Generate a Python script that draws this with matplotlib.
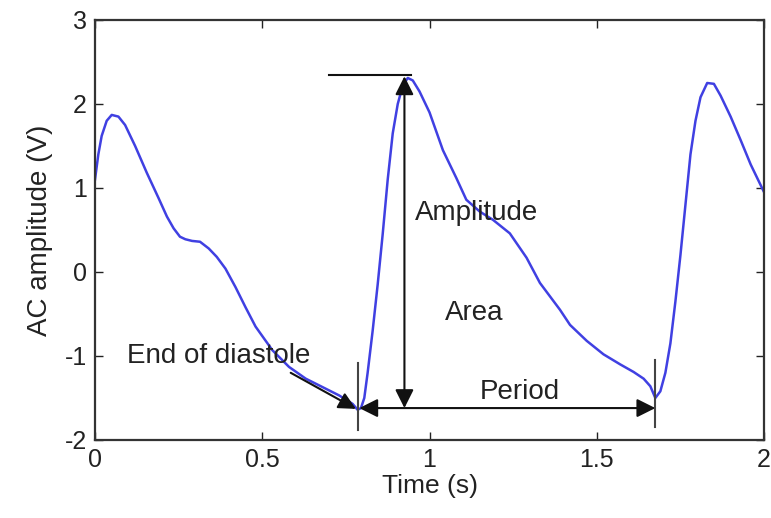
import matplotlib
matplotlib.use("Agg")
import matplotlib.pyplot as plt

# pulse waveform
t = [0.0, 0.01, 0.02, 0.035, 0.05, 0.07, 0.09, 0.12, 0.155, 0.19, 0.215,
     0.235, 0.254, 0.27, 0.29, 0.314, 0.34, 0.364, 0.39, 0.42, 0.45, 0.48,
     0.53, 0.58, 0.63, 0.68, 0.73, 0.77, 0.785, 0.795, 0.805, 0.815, 0.83,
     0.845, 0.86, 0.875, 0.89, 0.905, 0.92, 0.935, 0.95, 0.97, 1.0, 1.04,
     1.08, 1.11, 1.15, 1.19, 1.24, 1.29, 1.33, 1.39, 1.42, 1.47, 1.52, 1.57,
     1.61, 1.64, 1.66, 1.675, 1.69, 1.705, 1.72, 1.735, 1.75, 1.765, 1.78,
     1.795, 1.81, 1.83, 1.85, 1.87, 1.90, 1.93, 1.96, 2.0]
v = [1.1, 1.4, 1.62, 1.8, 1.87, 1.85, 1.75, 1.5, 1.18, 0.88, 0.66,
     0.52, 0.42, 0.39, 0.37, 0.36, 0.28, 0.18, 0.04, -0.18, -0.42, -0.65,
     -0.93, -1.13, -1.27, -1.37, -1.47, -1.57, -1.64, -1.62, -1.5, -1.2, -0.7,
     -0.15, 0.45, 1.1, 1.65, 2.0, 2.22, 2.31, 2.28, 2.15, 1.9, 1.45,
     1.12, 0.86, 0.72, 0.62, 0.46, 0.17, -0.13, -0.45, -0.63, -0.82, -0.98, -1.1,
     -1.19, -1.27, -1.36, -1.50, -1.42, -1.2, -0.85, -0.35, 0.2, 0.8, 1.4,
     1.8, 2.08, 2.25, 2.24, 2.1, 1.85, 1.57, 1.28, 0.95]

# annotation anchors (data units)
peak_t, peak_v = 0.925, 2.35
foot1_t, foot2_t, foot_v = 0.79, 1.675, -1.62

plt.rcParams["font.family"] = ["Liberation Sans", "DejaVu Sans"]
plt.rcParams["axes.unicode_minus"] = False

fig = plt.figure(figsize=(7.71, 5.18), dpi=100)
ax = fig.add_axes([0.1232, 0.1506, 0.8678, 0.8108])

ax.plot(t, v, color="#4040e2", lw=1.8)

ax.set_xlim(0, 2)
ax.set_ylim(-2, 3)
ax.set_xticks([0, 0.5, 1, 1.5, 2])
ax.set_xticklabels(["0", "0.5", "1", "1.5", "2"])
ax.set_yticks([-2, -1, 0, 1, 2, 3])
ax.tick_params(direction="in", top=True, right=True, length=6, width=1,
               labelsize=18, pad=6, colors="#222222")
for s in ax.spines.values():
    s.set_linewidth(1.6)
    s.set_color("#333333")
ax.set_xlabel("Time (s)", fontsize=19, labelpad=1, color="#222222")
ax.set_ylabel("AC amplitude (V)", fontsize=20, labelpad=8, color="#222222")

black = "#111111"
# top reference line
ax.plot([0.70, 0.945], [peak_v, peak_v], color=black, lw=1.5)
# amplitude double arrow
ax.annotate("", xy=(peak_t, peak_v - 0.02), xytext=(peak_t, foot_v),
            arrowprops=dict(arrowstyle="<|-|>", color=black, lw=1.5,
                            mutation_scale=28, shrinkA=0, shrinkB=0))
# period double arrow
ax.annotate("", xy=(foot1_t, foot_v), xytext=(foot2_t, foot_v),
            arrowprops=dict(arrowstyle="<|-|>", color=black, lw=1.5,
                            mutation_scale=28, shrinkA=0, shrinkB=0))
# vertical foot markers
ax.plot([0.785, 0.785], [-1.08, -1.88], color="#444444", lw=1.5)
ax.plot([1.675, 1.675], [-1.05, -1.85], color="#444444", lw=1.5)
# end of diastole arrow
ax.annotate("", xy=(0.78, -1.63), xytext=(0.585, -1.2),
            arrowprops=dict(arrowstyle="-|>", color=black, lw=1.5,
                            mutation_scale=26, shrinkA=0, shrinkB=0))

txt = dict(fontsize=20, color="#222222")
ax.text(0.37, -1.0, "End of diastole", ha="center", va="center", **txt)
ax.text(1.14, 0.70, "Amplitude", ha="center", va="center", **txt)
ax.text(1.135, -0.49, "Area", ha="center", va="center", **txt)
ax.text(1.27, -1.43, "Period", ha="center", va="center", **txt)

fig.savefig("out.png", dpi=100)
